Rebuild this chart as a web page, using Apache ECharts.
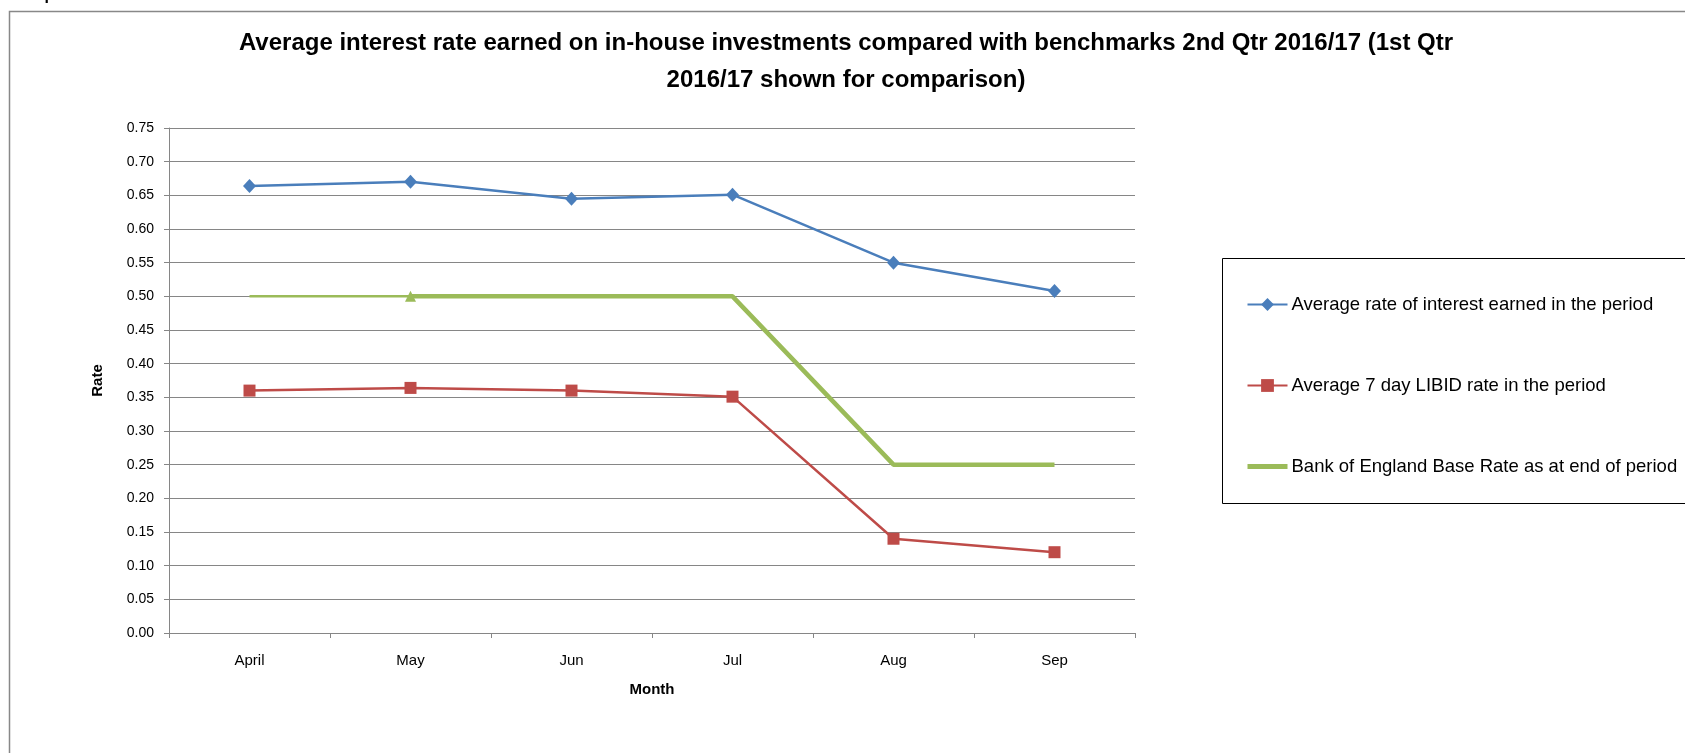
<!DOCTYPE html>
<html lang="en" style="height: 100%">
<head>
  <meta charset="utf-8">
  <title>Average interest rate earned on in-house investments</title>
  <style>
    body {
      margin: 0;
      background: #fff;
    }
    #container {
      width: 1685px;
      height: 753px;
    }
  </style>
</head>
<body style="height: 100%">
  <div id="container"></div>

  <script type="text/javascript" src="https://cdn.jsdelivr.net/npm/echarts@6/dist/echarts.min.js"></script>

  <script type="text/javascript">
    // months on the x axis
    var months = ['April', 'May', 'Jun', 'Jul', 'Aug', 'Sep'];
    // average rate of interest earned in the period
    var avgRate = [0.664, 0.670, 0.645, 0.651, 0.550, 0.508];
    // average 7 day LIBID rate
    var libidRate = [0.360, 0.364, 0.360, 0.351, 0.140, 0.120];
    // bank of england base rate, end of period
    var baseRate = [0.50, 0.50, 0.50, 0.50, 0.25, 0.25];

    var seriesNames = [
      'Average rate of interest earned in the period',
      'Average 7 day LIBID rate in the period',
      'Bank of England Base Rate as at end of period'
    ];

    var font = '"Liberation Sans", Arial, sans-serif';
    var gridColor = '#868686';

    var dom = document.getElementById('container');
    var myChart = echarts.init(dom, null, { renderer: 'canvas' });

    // the base rate is drawn thin from April to May, thick after that
    var baseEarly = baseRate.map(function (v, i) { return i <= 1 ? v : null; });
    var baseLate = baseRate.map(function (v, i) { return i >= 1 ? v : null; });

    var option = {
      backgroundColor: '#fff',
      animation: false,
      textStyle: { fontFamily: font, color: '#000' },
      title: {
        text: 'Average interest rate earned on in-house investments compared with benchmarks 2nd Qtr 2016/17 (1st Qtr\n2016/17 shown for comparison)',
        left: 841,
        top: 20,
        textAlign: 'center',
        textStyle: {
          fontFamily: font,
          fontSize: 24,
          fontWeight: 'bold',
          color: '#000',
          lineHeight: 37
        }
      },
      graphic: [
        {
          type: 'rect',
          left: 7,
          top: 9,
          shape: { width: 1720, height: 800 },
          style: { fill: 'none', stroke: '#888', lineWidth: 1.5 },
          silent: true
        },
        {
          type: 'rect',
          left: 1222,
          top: 258,
          shape: { width: 500, height: 245 },
          style: { fill: '#fff', stroke: '#000', lineWidth: 1 },
          silent: true,
          z: 1
        },
        {
          type: 'text',
          left: 17,
          top: -12,
          style: { text: 'Graph 1', font: 'bold 16px ' + font, fill: '#000' },
          silent: true
        }
      ],
      legend: {
        data: [
          { name: seriesNames[0] },
          { name: seriesNames[1] },
          {
            name: seriesNames[2],
            itemStyle: { color: 'rgba(0,0,0,0)', borderWidth: 0 },
            lineStyle: { color: '#9BBB59', width: 5 }
          }
        ],
        orient: 'vertical',
        left: 1240,
        top: 290,
        itemWidth: 40,
        itemHeight: 16,
        itemGap: 62,
        z: 5,
        textStyle: { fontFamily: font, fontSize: 18.5, color: '#000', padding: [0, 0, 0, -1] }
      },
      grid: {
        left: 169,
        right: 550,
        top: 128,
        bottom: 120
      },
      xAxis: {
        type: 'category',
        data: months,
        boundaryGap: true,
        name: 'Month',
        nameLocation: 'middle',
        nameGap: 49,
        nameTextStyle: { fontFamily: font, fontSize: 15, fontWeight: 'bold', color: '#000' },
        axisLine: { lineStyle: { color: gridColor, width: 1 } },
        axisTick: { show: true, length: 5, lineStyle: { color: gridColor } },
        axisLabel: { fontFamily: font, fontSize: 15, color: '#000', margin: 20 }
      },
      yAxis: {
        type: 'value',
        min: 0,
        max: 0.75,
        interval: 0.05,
        name: 'Rate',
        nameLocation: 'middle',
        nameGap: 64,
        nameTextStyle: { fontFamily: font, fontSize: 15, fontWeight: 'bold', color: '#000' },
        axisLine: { show: true, lineStyle: { color: gridColor, width: 1 } },
        axisTick: { show: true, length: 5, lineStyle: { color: gridColor } },
        axisLabel: {
          fontFamily: font,
          fontSize: 14,
          color: '#000',
          margin: 15,
          formatter: function (v) { return v.toFixed(2); }
        },
        splitLine: { show: true, lineStyle: { color: gridColor, width: 1 } }
      },
      series: [
        {
          name: seriesNames[0],
          type: 'line',
          data: avgRate,
          symbol: 'diamond',
          symbolSize: [13, 14],
          lineStyle: { color: '#4A7EBB', width: 2.5 },
          itemStyle: { color: '#4A7EBB' },
          z: 4
        },
        {
          name: seriesNames[1],
          type: 'line',
          data: libidRate,
          symbol: 'rect',
          symbolSize: 12,
          lineStyle: { color: '#BE4B48', width: 2.5 },
          itemStyle: { color: '#BE4B48' },
          z: 3
        },
        {
          name: seriesNames[2],
          type: 'line',
          data: baseLate,
          symbol: 'none',
          lineStyle: { color: '#9BBB59', width: 4.5 },
          itemStyle: { color: '#9BBB59' },
          z: 2
        },
        {
          name: 'base-early',
          type: 'line',
          data: baseEarly,
          symbol: function (v, p) { return p.dataIndex === 1 ? 'triangle' : 'none'; },
          symbolSize: 11,
          lineStyle: { color: '#9BBB59', width: 2.5 },
          itemStyle: { color: '#9BBB59' },
          z: 2
        }
      ]
    };

    myChart.setOption(option);
    window.addEventListener('resize', myChart.resize);
  </script>
</body>
</html>
